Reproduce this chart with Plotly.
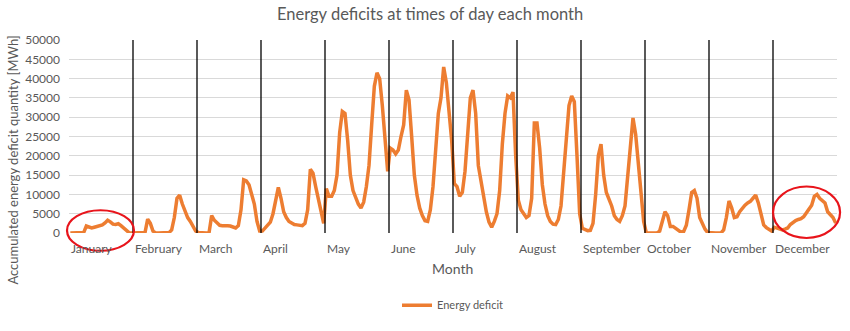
import plotly.graph_objects as go

months = ["January", "February", "March", "April", "May", "June", "July",
          "August", "September", "October", "November", "December"]
hours_per_month = 24

# Accumulated energy deficit [MWh], 24 hourly values per month
jan = [0, 0, 0, 0, 0, 100, 1800, 1600, 1300, 1500, 1700, 1900,
       2100, 2600, 3300, 2900, 2300, 2200, 2400, 1900, 1200, 500, 100, 0]
feb = [0, 0, 0, 0, 100, 3600, 2500, 500, 0, 0, 0, 0,
       0, 100, 800, 4000, 9000, 9800, 7500, 5500, 4000, 3000, 1800, 500]
mar = [100, 0, 0, 0, 0, 4500, 3300, 2500, 2000, 1900, 2000, 1900,
       1800, 1500, 1300, 1900, 6000, 13800, 13500, 12500, 10000, 7500, 3000, 500]
apr = [500, 1300, 1800, 2800, 5000, 8500, 11800, 9000, 5500, 4000, 3000, 2600,
       2200, 2100, 2000, 1900, 2500, 6000, 16500, 15500, 12000, 9000, 6000, 2500]
may = [11500, 9500, 9500, 11000, 15000, 26000, 31500, 31000, 24000, 15000, 11000, 9000,
       7500, 6500, 8000, 12000, 17500, 28000, 38000, 41500, 40000, 33000, 24000, 16000]
jun = [22000, 21500, 20500, 21500, 25000, 28000, 37000, 34500, 25000, 15000, 9800, 6500,
       4500, 3200, 3000, 6000, 12000, 22000, 31000, 35000, 43000, 39000, 31000, 24000]
jul = [12800, 12000, 9500, 10500, 16000, 26000, 35000, 37000, 31000, 17500, 13300, 9000,
       5500, 2800, 1500, 3000, 5000, 11000, 23000, 31000, 35500, 35000, 36500, 20000]
aug = [8500, 6000, 4800, 4000, 4500, 9000, 28500, 28500, 22000, 12500, 7500, 4500,
       3000, 2300, 2200, 3500, 7000, 15000, 23000, 33000, 35500, 34000, 20000, 5000]
sep = [1200, 800, 600, 700, 2500, 10000, 20000, 23000, 15000, 10500, 9000, 7000,
       4500, 3500, 3000, 4500, 7000, 14000, 23000, 29800, 25500, 17500, 10500, 3000]
oct_ = [0, 0, 0, 0, 0, 500, 3500, 5500, 4500, 1700, 1700, 1200,
        800, 200, 400, 2000, 6000, 10500, 11000, 9000, 4000, 2500, 1000, 100]
nov = [0, 0, 0, 0, 0, 800, 4000, 8300, 6500, 4000, 4200, 5500,
       6500, 7200, 7800, 8200, 9000, 9800, 7800, 4500, 2100, 1400, 1000, 500]
dec = [1500, 1200, 900, 800, 1000, 1300, 2200, 2800, 3200, 3500, 3700, 4200,
       5100, 6000, 7200, 9500, 10000, 9000, 8500, 7800, 5500, 4700, 4000, 2600]

monthly = [jan, feb, mar, apr, may, jun, jul, aug, sep, oct_, nov, dec]
y_ticks = [0, 5000, 10000, 15000, 20000, 25000, 30000, 35000, 40000, 45000, 50000]

values = [v for m in monthly for v in m]
x_idx = list(range(len(values)))
n = len(values)

grey = "#595959"
font_family = "Lato, 'Open Sans', sans-serif"

fig = go.Figure()
fig.add_trace(go.Scatter(
    x=x_idx, y=values, mode="lines", name="Energy deficit",
    line=dict(color="#ED7D31", width=3.5),
))

shapes = []
# month separators
for k in range(1, len(months)):
    xb = k * hours_per_month - 0.5
    shapes.append(dict(type="line", xref="x", yref="y", x0=xb, x1=xb,
                       y0=0, y1=y_ticks[-1], line=dict(color="#000000", width=1.3)))
# red highlight ellipses (January and December)
shapes.append(dict(type="circle", xref="paper", yref="paper",
                   x0=-0.0026, x1=0.0846, y0=-0.092, y1=0.118,
                   line=dict(color="#E8141B", width=2.2)))
shapes.append(dict(type="circle", xref="paper", yref="paper",
                   x0=0.9167, x1=1.004, y0=-0.026, y1=0.241,
                   line=dict(color="#E8141B", width=2.2)))

annotations = []
for k, m in enumerate(months):
    annotations.append(dict(text=m, xref="x", yref="paper",
                            x=k * hours_per_month - 0.5, y=-0.082,
                            xanchor="left", yanchor="middle", showarrow=False,
                            font=dict(size=12, color=grey, family=font_family)))
annotations.append(dict(text="Month", xref="paper", yref="paper", x=0.499, y=-0.185,
                        xanchor="center", yanchor="middle", showarrow=False,
                        font=dict(size=14, color=grey, family=font_family)))
annotations.append(dict(text="Accumulated energy deficit quantity [MWh]", xref="paper",
                        yref="paper", x=-0.073, y=0.38, textangle=-90,
                        xanchor="center", yanchor="middle", showarrow=False,
                        font=dict(size=13, color=grey, family=font_family)))

fig.update_layout(
    width=850, height=331,
    margin=dict(l=69, r=13, t=40, b=96),
    paper_bgcolor="white", plot_bgcolor="white",
    title=dict(text="Energy deficits at times of day each month", x=0.506, xanchor="center",
               y=0.958, yanchor="middle",
               font=dict(size=16.5, color=grey, family=font_family)),
    xaxis=dict(range=[-0.5, n - 0.5], showgrid=False, showticklabels=False,
               zeroline=False, showline=False, ticks=""),
    yaxis=dict(range=[0, y_ticks[-1]], tickvals=y_ticks,
               ticktext=[str(t) for t in y_ticks],
               showgrid=True, gridcolor="#D9D9D9", gridwidth=1,
               zeroline=False, showline=False, ticks="", ticklabelstandoff=8,
               tickfont=dict(size=12, color=grey, family=font_family)),
    showlegend=True,
    legend=dict(orientation="h", x=0.5, xanchor="center", y=-0.374, yanchor="middle",
                font=dict(size=11, color=grey, family=font_family),
                itemwidth=30),
    shapes=shapes, annotations=annotations,
)

fig.write_html("out.html")
